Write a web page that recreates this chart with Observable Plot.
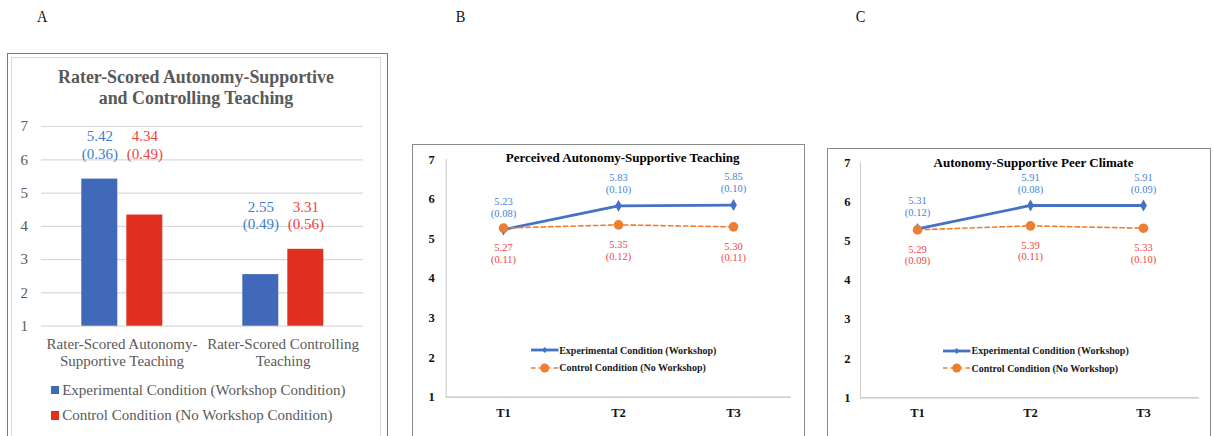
<!DOCTYPE html>
<html><head><meta charset="utf-8">
<script src="https://cdn.jsdelivr.net/npm/d3@7"></script>
<script src="https://cdn.jsdelivr.net/npm/@observablehq/plot@0.6"></script>
<style>
body{margin:0;background:#fff;}
#root{position:relative;width:1213px;height:436px;overflow:hidden;font-family:"Liberation Serif","Times New Roman",serif;background:#fff;}
.abs{position:absolute;}
.abs svg{overflow:visible;}
</style></head><body><div id="root"></div>
<script>
// ---------- Panel A data ----------
const barCategories = ["Rater-Scored Autonomy-Supportive Teaching", "Rater-Scored Controlling Teaching"];
const barCategoryLabels = ["Rater-Scored Autonomy-\nSupportive Teaching", "Rater-Scored Controlling\nTeaching"];
const barConditions = ["Experimental Condition (Workshop Condition)", "Control Condition (No Workshop Condition)"];
const experimentalMeans = [5.42, 2.55];
const experimentalSDs = ["0.36", "0.49"];
const controlMeans = [4.34, 3.31];
const controlSDs = ["0.49", "0.56"];
const barTicks = [1, 2, 3, 4, 5, 6, 7];
const barTitle = ["Rater-Scored Autonomy-Supportive", "and Controlling Teaching"];

// ---------- Panels B and C data ----------
const times = ["T1", "T2", "T3"];
const lineTicks = [1, 2, 3, 4, 5, 6, 7];
const lineConditions = ["Experimental Condition (Workshop)", "Control Condition (No Workshop)"];
const perceivedTitle = "Perceived Autonomy-Supportive Teaching";
const perceivedExp = [5.23, 5.83, 5.85];
const perceivedExpSE = ["0.08", "0.10", "0.10"];
const perceivedCtl = [5.27, 5.35, 5.30];
const perceivedCtlSE = ["0.11", "0.12", "0.11"];
const peerTitle = "Autonomy-Supportive Peer Climate";
const peerExp = [5.31, 5.91, 5.91];
const peerExpSE = ["0.12", "0.08", "0.09"];
const peerCtl = [5.29, 5.39, 5.33];
const peerCtlSE = ["0.09", "0.11", "0.10"];
const panelLetters = ["A", "B", "C"];

// ---------- styles ----------
const SERIF = "'Liberation Serif','Times New Roman',serif";
const BAR_BLUE = "#4069BA", BAR_RED = "#E1301F";
const LBL_BLUE = "#3F7BD0", LBL_RED = "#F0413A";
const LINE_BLUE = "#4472C4", LINE_ORANGE = "#ED7D31";
const LINE_LBL_BLUE = "#3E86D6", LINE_LBL_RED = "#F5423F";

const root = document.getElementById("root");
function place(el, left, top) {
  const d = document.createElement("div");
  d.className = "abs"; d.style.left = left + "px"; d.style.top = top + "px";
  d.appendChild(el); root.appendChild(d); return d;
}
function box(left, top, width, height, border) {
  const d = document.createElement("div");
  d.className = "abs";
  Object.assign(d.style, {left: left + "px", top: top + "px", width: width + "px", height: height + "px", border, boxSizing: "border-box"});
  root.appendChild(d);
}
function html(left, top, content, style) {
  const d = document.createElement("div");
  d.className = "abs"; d.innerHTML = content;
  Object.assign(d.style, {left: left + "px", top: top + "px"}, style || {});
  root.appendChild(d); return d;
}

// panel letters
[[36, 7], [455, 7], [855, 7]].forEach(([x, y], i) =>
  html(x, y, panelLetters[i], {fontSize: "17px", fontFamily: SERIF, color: "#111", transform: "scaleX(0.85)"}));

// ---------- Panel A ----------
box(7, 53, 381, 420, "1.5px solid #7a7a7a");
box(10.7, 56.7, 370, 420, "1px solid #d9d9d9");
html(0, 67, barTitle.join("<br>"), {width: "392px", textAlign: "center", fontFamily: SERIF, fontWeight: "bold", fontSize: "17.9px", lineHeight: "20.5px", color: "#595959"});

const barData = [];
barCategories.forEach((c, i) => {
  const gmax = Math.max(experimentalMeans[i], controlMeans[i]);
  barData.push({cat: c, cond: barConditions[0], value: experimentalMeans[i], sd: experimentalSDs[i], gmax});
  barData.push({cat: c, cond: barConditions[1], value: controlMeans[i], sd: controlSDs[i], gmax});
});

const FS_A = 15;
const plotA = Plot.plot({
  width: 400, height: 436,
  marginLeft: 40.7, marginRight: 37, marginTop: 126, marginBottom: 110.3,
  style: {fontFamily: SERIF, background: "transparent", fontSize: FS_A + "px", overflow: "visible"},
  fx: {domain: barCategories, padding: 0, axis: null},
  x: {domain: barConditions, paddingInner: 0.2065, paddingOuter: 0.855, axis: null},
  y: {domain: [1, 7], axis: null},
  color: {domain: barConditions, range: [BAR_BLUE, BAR_RED]},
  marks: [
    Plot.ruleY(barTicks, {stroke: "#d9d9d9", strokeWidth: 1.2}),
    Plot.axisY({ticks: barTicks, tickSize: 0, tickPadding: 13.4, label: null, tickFormat: d => String(d), fill: "#595959", fontSize: FS_A}),
    Plot.barY(barData, {fx: "cat", x: "cond", y1: 1, y2: "value", fill: "cond"}),
    Plot.text(barData, {filter: d => d.cond === barConditions[0], fx: "cat", x: "cond", y: "gmax",
      text: d => `${d.value.toFixed(2)}\n(${d.sd})`, fill: LBL_BLUE, lineAnchor: "bottom", dy: -20.5, fontSize: FS_A, lineHeight: 1.15}),
    Plot.text(barData, {filter: d => d.cond === barConditions[1], fx: "cat", x: "cond", y: "gmax",
      text: d => `${d.value.toFixed(2)}\n(${d.sd})`, fill: LBL_RED, lineAnchor: "bottom", dy: -20.5, fontSize: FS_A, lineHeight: 1.15}),
    Plot.text(barCategories, {fx: d => d, frameAnchor: "bottom", text: d => barCategoryLabels[barCategories.indexOf(d)],
      dy: 25.8, lineAnchor: "middle", fontSize: FS_A, fill: "#595959", lineHeight: 1.13})
  ]
});
place(plotA, 0, 0);

// legend A
[[BAR_BLUE, 381.5], [BAR_RED, 407]].forEach(([col, y], i) => {
  html(50.7, y, `<span style="display:inline-block;width:8.5px;height:8.5px;background:${col};margin-right:3px"></span>${barConditions[i]}`,
    {fontFamily: SERIF, fontSize: FS_A + "px", color: "#595959", whiteSpace: "nowrap", lineHeight: "17px", display: "flex", alignItems: "center"});
});

// ---------- Panels B & C ----------
function linePanel(o) {
  const expData = times.map((t, i) => ({t, v: o.exp[i], se: o.expSE[i]}));
  const ctlData = times.map((t, i) => ({t, v: o.ctl[i], se: o.ctlSE[i]}));
  const p = Plot.plot({
    width: o.width, height: o.height,
    marginLeft: o.ml, marginRight: o.mr, marginTop: o.mt, marginBottom: o.mb,
    style: {fontFamily: SERIF, background: "transparent", fontSize: "12px", overflow: "visible"},
    x: {domain: times, type: "point", padding: 0.5, axis: null},
    y: {domain: [1, 7], axis: null},
    marks: [
      Plot.frame({anchor: "left", stroke: "#d0d0d0", strokeWidth: 1.2}),
      Plot.ruleY([1], {stroke: "#bfbfbf", strokeWidth: 1.2}),
      Plot.axisY({ticks: lineTicks, tickSize: 0, tickPadding: o.ytp, label: null, tickFormat: d => String(d), fontWeight: "bold", fontSize: 12.5, fill: "#111"}),
      Plot.axisX({tickSize: 0, tickPadding: 10.5, label: null, fontWeight: "bold", fontSize: 12.5, fill: "#111"}),
      Plot.text([o.title], {frameAnchor: "top", lineAnchor: "middle", dx: o.tdx, dy: o.tdy, fontWeight: "bold", fontSize: 13, fill: "#000"}),
      Plot.line(expData, {x: "t", y: "v", stroke: LINE_BLUE, strokeWidth: 2.8}),
      Plot.dot(expData, {x: "t", y: "v", symbol: "diamond", r: 3.6, fill: LINE_BLUE}),
      Plot.line(ctlData, {x: "t", y: "v", stroke: LINE_ORANGE, strokeWidth: 1.6, strokeDasharray: "4.5,3"}),
      Plot.dot(ctlData, {x: "t", y: "v", r: 4.8, fill: LINE_ORANGE}),
      Plot.text(expData, {x: "t", y: "v", text: d => `${d.v.toFixed(2)}\n(${d.se})`, dy: -22.5, lineAnchor: "middle", fill: LINE_LBL_BLUE, fontSize: 10.5, lineHeight: 1.12}),
      Plot.text(ctlData, {x: "t", y: "v", text: d => `${d.v.toFixed(2)}\n(${d.se})`, dy: 25, lineAnchor: "middle", fill: LINE_LBL_RED, fontSize: 10.5, lineHeight: 1.12})
    ]
  });
  place(p, o.left, o.top);
  // legend
  const sw1 = `<svg width="27.5" height="8" style="margin-right:1px"><line x1="0" y1="4" x2="27.5" y2="4" stroke="${LINE_BLUE}" stroke-width="2.8"/><path d="M13.75,1 L16.5,4 L13.75,7 L11,4Z" fill="${LINE_BLUE}"/></svg>`;
  const sw2 = `<svg width="27.5" height="10" style="margin-right:1px"><line x1="0" y1="5" x2="27.5" y2="5" stroke="${LINE_ORANGE}" stroke-width="1.6" stroke-dasharray="4.5,3"/><circle cx="13.75" cy="5" r="4.5" fill="${LINE_ORANGE}"/></svg>`;
  [[sw1, o.legY], [sw2, o.legY + 17.7]].forEach(([sw, y], i) => {
    html(o.legX, y - 8, sw + `<span>${lineConditions[i]}</span>`,
      {fontFamily: SERIF, fontSize: "10px", fontWeight: "bold", color: "#1a1a1a", whiteSpace: "nowrap", height: "16px", display: "flex", alignItems: "center"});
  });
}

box(412, 144, 392.5, 320, "1.3px solid #8a8a8a");
linePanel({left: 405, top: 135, width: 400, height: 301, ml: 40.7, mr: 14.3, mt: 24, mb: 39.3, ytp: 11.4,
  title: perceivedTitle, tdx: 4, tdy: -1.3, exp: perceivedExp, expSE: perceivedExpSE, ctl: perceivedCtl, ctlSE: perceivedCtlSE,
  legX: 530.7, legY: 350});

box(827, 148.3, 384, 320, "1.3px solid #8a8a8a");
linePanel({left: 820, top: 135, width: 393, height: 301, ml: 40, mr: 14, mt: 27.3, mb: 38.7, ytp: 10,
  title: peerTitle, tdx: 3.5, tdy: 0, exp: peerExp, expSE: peerExpSE, ctl: peerCtl, ctlSE: peerCtlSE,
  legX: 943, legY: 350.7});
</script></body></html>
